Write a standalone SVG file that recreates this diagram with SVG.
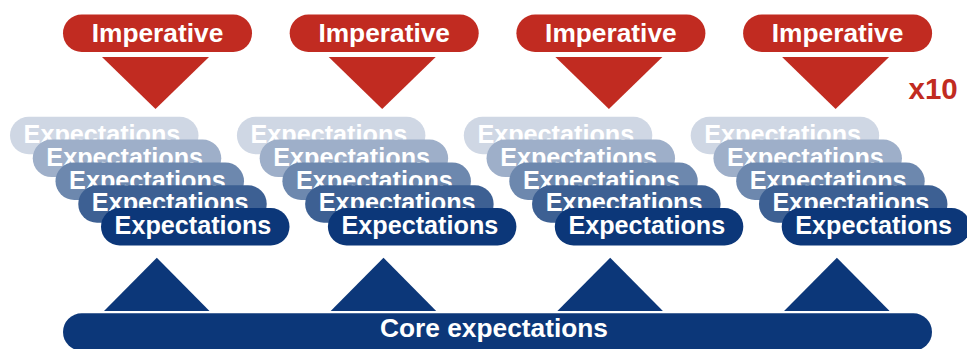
<svg xmlns="http://www.w3.org/2000/svg" width="967" height="349" viewBox="0 0 967 349">
  <style>
    .lbl { font-family: "Liberation Sans", Arial, Helvetica, sans-serif; font-weight: bold; fill: #ffffff; text-anchor: middle; }
    .imp { fill: #c12b21; }
    .tri-down { fill: #c12b21; }
    .tri-up { fill: #0c3779; }
    .l1 { fill: #cfd7e4; }
    .l2 { fill: #9eafc9; }
    .l3 { fill: #6d88ae; }
    .l4 { fill: #3d6093; }
    .l5 { fill: #0c3779; }
    .core { fill: #0c3779; }
    .mult { font-family: "Liberation Sans", Arial, Helvetica, sans-serif; font-weight: bold; fill: #c12b21; font-size: 29.5px; }
  </style>
  <defs>
    <!-- one imperative pill -->
    <g id="imperativePill">
      <rect class="imp" x="63" y="14.5" width="189" height="37.5" rx="18.75"/>
      <text class="lbl" x="157.5" y="42" font-size="26.3">Imperative</text>
    </g>
    <!-- stack of five expectation pills, light at the back to dark at the front -->
    <g id="expectationStack">
      <rect class="l1" x="10" y="116.8" width="188.5" height="37.5" rx="18.75"/>
      <text class="lbl" x="102" y="143" font-size="25.2">Expectations</text>
      <rect class="l2" x="32.75" y="139.6" width="188.5" height="37.5" rx="18.75"/>
      <text class="lbl" x="124.75" y="165.8" font-size="25.2">Expectations</text>
      <rect class="l3" x="55.5" y="162.4" width="188.5" height="37.5" rx="18.75"/>
      <text class="lbl" x="147.5" y="188.6" font-size="25.2">Expectations</text>
      <rect class="l4" x="78.25" y="185.2" width="188.5" height="37.5" rx="18.75"/>
      <text class="lbl" x="170.25" y="211.4" font-size="25.2">Expectations</text>
      <rect class="l5" x="101" y="208" width="188.5" height="37.5" rx="18.75"/>
      <text class="lbl" x="193" y="234.2" font-size="25.2">Expectations</text>
    </g>
    <polygon id="downArrow" class="tri-down" points="102,57 209,57 155.5,109"/>
    <polygon id="upArrow" class="tri-up" points="104,311 209.5,311 156.8,257.7"/>
  </defs>

  <!-- connectors: imperative arrows down, core arrows up -->
  <g id="connectors">
    <use href="#downArrow"/>
    <use href="#downArrow" transform="translate(226.7,0)"/>
    <use href="#downArrow" transform="translate(453.4,0)"/>
    <use href="#downArrow" transform="translate(680.1,0)"/>
    <use href="#upArrow"/>
    <use href="#upArrow" transform="translate(226.7,0)"/>
    <use href="#upArrow" transform="translate(453.4,0)"/>
    <use href="#upArrow" transform="translate(680.1,0)"/>
  </g>

  <!-- imperatives -->
  <g id="imperative-1"><use href="#imperativePill"/></g>
  <g id="imperative-2"><use href="#imperativePill" transform="translate(226.7,0)"/></g>
  <g id="imperative-3"><use href="#imperativePill" transform="translate(453.4,0)"/></g>
  <g id="imperative-4"><use href="#imperativePill" transform="translate(680.1,0)"/></g>

  <g id="multiplier"><text class="mult" x="908.5" y="98.5">x10</text></g>

  <!-- expectation stacks -->
  <g id="expectations-1"><use href="#expectationStack"/></g>
  <g id="expectations-2"><use href="#expectationStack" transform="translate(226.9,0)"/></g>
  <g id="expectations-3"><use href="#expectationStack" transform="translate(453.8,0)"/></g>
  <g id="expectations-4"><use href="#expectationStack" transform="translate(680.7,0)"/></g>

  <!-- core bar -->
  <g id="core">
    <rect class="core" x="63" y="313.3" width="869" height="37.5" rx="18.75"/>
    <text class="lbl" x="494" y="337" font-size="26.3">Core expectations</text>
  </g>
</svg>
